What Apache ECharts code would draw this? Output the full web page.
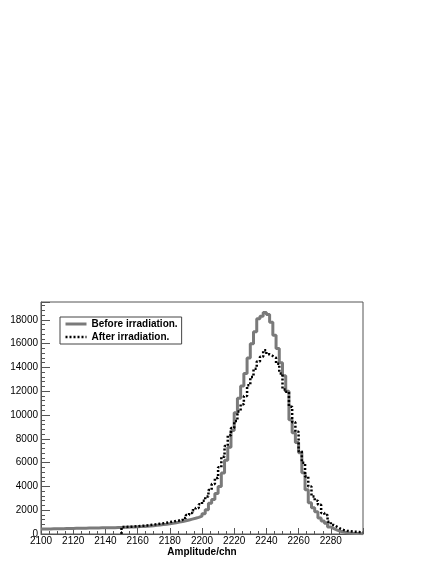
<!DOCTYPE html>
<html>
<head>
<meta charset="utf-8">
<script src="https://cdn.jsdelivr.net/npm/echarts@6/dist/echarts.min.js"></script>
<style>
  html, body { margin: 0; padding: 0; background: #fff; }
  #chart { width: 436px; height: 564px; }
</style>
</head>
<body>
<div id="chart"></div>
<script>
// histogram binning (channels)
var binWidth = 2
var beforeStart = 2100
var afterStart = 2150

// before irradiation, counts per bin from 2100
var beforeCounts = [
    420, 425, 430, 435, 440, 445, 450, 455, 460, 470,
    475, 480, 485, 490, 495, 500, 505, 510, 515, 520,
    525, 530, 535, 540, 545, 560, 570, 580, 590, 600,
    620, 640, 660, 680, 700, 730, 760, 790, 820, 860,
    900, 950, 1000, 1050, 1110, 1180, 1250, 1320, 1400, 1500,
    1700, 2030, 2590, 2900, 3400, 3990, 5120, 6200, 7300, 8700,
    10200, 11400, 12430, 13500, 14800, 16000, 17000, 18100, 18300, 18620,
    18450, 17800, 16700, 15600, 14400, 13300, 12000, 9600, 8500, 7700,
    6830, 5150, 3710, 2620, 2200, 1880, 1350, 1100, 900, 590,
    450, 330, 230, 160, 110, 80, 60, 45, 35, 30
]

// after irradiation, counts per bin from 2150
var afterCounts = [
    590, 600, 610, 630, 650, 680, 700, 720, 750, 780,
    820, 860, 900, 950, 1000, 1040, 1100, 1140, 1180, 1350,
    1600, 1770, 2000, 2190, 2500, 2800, 3150, 3700, 4200, 4700,
    5600, 6500, 7400, 8300, 8900, 9500, 10300, 10900, 11600, 12500,
    13200, 13900, 14500, 14900, 15450, 15100, 14960, 14800, 14300, 13500,
    12150, 11950, 10700, 9400, 8600, 6950, 5990, 4840, 3990, 3150,
    2800, 2450, 1770, 1600, 1040, 760, 600, 450, 340, 280,
    230, 200, 180, 160, 150
]

function histPoints(start, counts) {
    var pts = [[start, counts[0]]]
    counts.forEach(function (c, i) {
        pts.push([start + (i + 1) * binWidth, c])
    })
    return pts
}

var afterPts = histPoints(afterStart, afterCounts)
afterPts[0] = [afterStart, 0]

var chart = echarts.init(document.getElementById('chart'))
var font = 'Liberation Sans, Arial, sans-serif'

function plain(v) {
    return String(v)
}

chart.setOption({
    animation: false,
    textStyle: { fontFamily: font },
    grid: {
        left: 41, top: 302, width: 322, height: 232,
        containLabel: false,
        outerBoundsMode: 'none',
        show: true, borderColor: '#555', borderWidth: 1
    },
    legend: {
        orient: 'vertical',
        left: 60, top: 317,
        padding: [2, 4, 2, 4],
        itemGap: 3,
        itemWidth: 21, itemHeight: 10,
        itemStyle: { opacity: 0 },
        borderColor: '#444', borderWidth: 1,
        textStyle: { fontFamily: font, fontSize: 10, fontWeight: 'bold', color: '#000' },
        data: [
            { name: 'Before irradiation.', lineStyle: { width: 3 } },
            { name: 'After irradiation.', lineStyle: { width: 2.5, type: [2, 2] } }
        ]
    },
    xAxis: {
        type: 'value',
        min: 2100, max: 2300, interval: 20,
        name: 'Amplitude/chn',
        nameLocation: 'middle',
        nameGap: 10,
        nameTextStyle: { fontFamily: font, fontSize: 10, fontWeight: 'bold', color: '#000' },
        axisLine: { show: true, lineStyle: { color: '#555', width: 1 } },
        axisTick: { inside: true, length: 6, lineStyle: { color: '#555' } },
        minorTick: { show: true, splitNumber: 4, length: 3, lineStyle: { color: '#555' } },
        splitLine: { show: false },
        axisLabel: { formatter: plain, showMaxLabel: false, margin: 2, fontSize: 10, color: '#000', fontFamily: font }
    },
    yAxis: {
        type: 'value',
        min: 0, max: 19500, interval: 2000,
        name: 'Counts',
        nameLocation: 'middle',
        nameRotate: 90,
        nameGap: 31,
        nameTextStyle: { fontFamily: font, fontSize: 10, fontWeight: 'bold', color: '#000' },
        axisLine: { show: true, lineStyle: { color: '#555', width: 1 } },
        axisTick: { inside: true, length: 9, lineStyle: { color: '#555' } },
        minorTick: { show: true, splitNumber: 5, length: 4, lineStyle: { color: '#555' } },
        splitLine: { show: false },
        axisLabel: { formatter: plain, showMaxLabel: false, margin: 3, fontSize: 10, color: '#000', fontFamily: font }
    },
    series: [
        {
            name: 'Before irradiation.',
            type: 'line',
            step: 'start',
            symbol: 'none',
            color: '#7a7a7a',
            lineStyle: { color: '#7a7a7a', width: 3 },
            data: histPoints(beforeStart, beforeCounts)
        },
        {
            name: 'After irradiation.',
            type: 'line',
            step: 'start',
            symbol: 'none',
            color: '#000',
            lineStyle: { color: '#000', width: 2.5, type: [2, 2] },
            data: afterPts
        }
    ]
})
</script>
</body>
</html>
